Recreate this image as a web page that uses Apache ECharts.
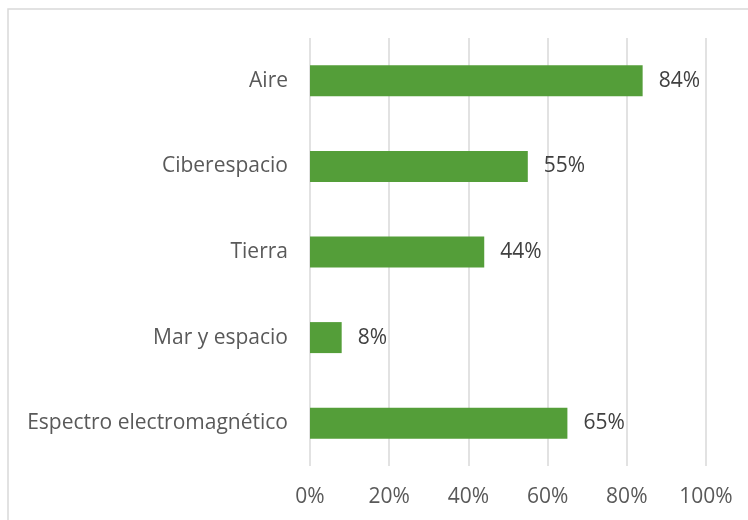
<!DOCTYPE html>
<html><head><meta charset="utf-8">
<script src="https://cdn.jsdelivr.net/npm/echarts@6/dist/echarts.min.js"></script>
<style>html,body{margin:0;padding:0;background:#fff}#c{width:748px;height:520px}</style>
</head><body><div id="c"></div>
<script>
const categories = ['Aire', 'Ciberespacio', 'Tierra', 'Mar y espacio', 'Espectro electromagnético'];
const values = [84, 55, 44, 8, 65];
const xTicks = [0, 20, 40, 60, 80, 100];

const chart = echarts.init(document.getElementById('c'), null, {renderer: 'canvas'});
const font = 'Open Sans';
chart.setOption({
  animation: false,
  backgroundColor: '#ffffff',
  graphic: [{
    type: 'rect',
    shape: {x: 8, y: 9, width: 800, height: 600},
    style: {fill: 'none', stroke: '#d9d9d9', lineWidth: 1.5},
    silent: true, z: -1
  }],
  grid: {left: 310, right: 42, top: 38, bottom: 54, containLabel: false},
  xAxis: {
    type: 'value', min: 0, max: 100, interval: 20,
    axisLine: {show: false}, axisTick: {show: false},
    splitLine: {lineStyle: {color: '#d9d9d9', width: 1.5}},
    axisLabel: {
      color: '#595959', fontFamily: font, fontSize: 21, margin: 21,
      formatter: v => xTicks.includes(v) ? v + '%' : ''
    }
  },
  yAxis: {
    type: 'category', data: categories.slice().reverse(),
    axisLine: {show: false}, axisTick: {show: false},
    axisLabel: {color: '#595959', fontFamily: font, fontSize: 21, margin: 22}
  },
  series: [{
    type: 'bar', data: values.slice().reverse(), barWidth: 31,
    itemStyle: {color: '#549E39'},
    label: {
      show: true, position: 'right', distance: 16,
      formatter: p => p.value + '%',
      color: '#404040', fontFamily: font, fontSize: 21
    }
  }]
});
</script></body></html>
